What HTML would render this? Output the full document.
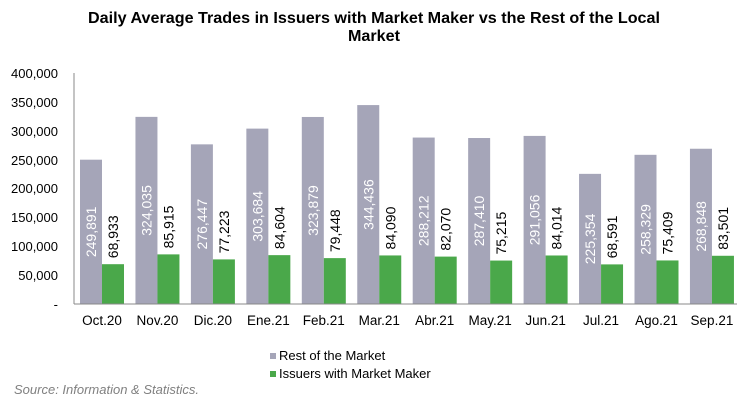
<!DOCTYPE html>
<html><head><meta charset="utf-8"><style>
html,body{margin:0;padding:0;background:#fff;}
svg{display:block;font-family:"Liberation Sans",Arial,sans-serif;}
.g{fill:#a5a5b8}.n{fill:#4aa84a}
.w{fill:#fff;font-size:14px;text-anchor:middle}
.b{fill:#000;font-size:14px;text-anchor:start}
.c{font-size:13.5px;text-anchor:middle}
</style></head><body>
<svg width="749" height="409" viewBox="0 0 749 409" xmlns="http://www.w3.org/2000/svg">
<text x="374" y="23" text-anchor="middle" font-size="16" font-weight="bold" textLength="572" lengthAdjust="spacingAndGlyphs">Daily Average Trades in Issuers with Market Maker vs the Rest of the Local</text>
<text x="374" y="41" text-anchor="middle" font-size="16" font-weight="bold" textLength="52" lengthAdjust="spacingAndGlyphs">Market</text>
<g font-size="13" text-anchor="end" fill="#000">
<text x="58" y="78">400,000</text>
<text x="58" y="107">350,000</text>
<text x="58" y="136">300,000</text>
<text x="58" y="165">250,000</text>
<text x="58" y="193">200,000</text>
<text x="58" y="222">150,000</text>
<text x="58" y="251">100,000</text>
<text x="58" y="280">50,000</text>
<text x="58" y="309">-</text>
</g>

<g transform="translate(80,0)"><rect class="g" x="0" y="159.69" width="22" height="144.31"/><rect class="n" x="22" y="264.19" width="22" height="39.81"/><text class="w" transform="translate(16,231.85) rotate(-90)">249,891</text><text class="b" transform="translate(38,258.19) rotate(-90)">68,933</text><text class="c" x="22" y="325">Oct.20</text></g>
<g transform="translate(135.45,0)"><rect class="g" x="0" y="116.87" width="22" height="187.13"/><rect class="n" x="22" y="254.38" width="22" height="49.62"/><text class="w" transform="translate(16,210.44) rotate(-90)">324,035</text><text class="b" transform="translate(38,248.38) rotate(-90)">85,915</text><text class="c" x="22" y="325">Nov.20</text></g>
<g transform="translate(190.9,0)"><rect class="g" x="0" y="144.35" width="22" height="159.65"/><rect class="n" x="22" y="259.40" width="22" height="44.60"/><text class="w" transform="translate(16,224.18) rotate(-90)">276,447</text><text class="b" transform="translate(38,253.40) rotate(-90)">77,223</text><text class="c" x="22" y="325">Dic.20</text></g>
<g transform="translate(246.35,0)"><rect class="g" x="0" y="128.62" width="22" height="175.38"/><rect class="n" x="22" y="255.14" width="22" height="48.86"/><text class="w" transform="translate(16,216.31) rotate(-90)">303,684</text><text class="b" transform="translate(38,249.14) rotate(-90)">84,604</text><text class="c" x="22" y="325">Ene.21</text></g>
<g transform="translate(301.8,0)"><rect class="g" x="0" y="116.96" width="22" height="187.04"/><rect class="n" x="22" y="258.12" width="22" height="45.88"/><text class="w" transform="translate(16,210.48) rotate(-90)">323,879</text><text class="b" transform="translate(38,252.12) rotate(-90)">79,448</text><text class="c" x="22" y="325">Feb.21</text></g>
<g transform="translate(357.25,0)"><rect class="g" x="0" y="105.09" width="22" height="198.91"/><rect class="n" x="22" y="255.44" width="22" height="48.56"/><text class="w" transform="translate(16,204.55) rotate(-90)">344,436</text><text class="b" transform="translate(38,249.44) rotate(-90)">84,090</text><text class="c" x="22" y="325">Mar.21</text></g>
<g transform="translate(412.7,0)"><rect class="g" x="0" y="137.56" width="22" height="166.44"/><rect class="n" x="22" y="256.60" width="22" height="47.40"/><text class="w" transform="translate(16,220.78) rotate(-90)">288,212</text><text class="b" transform="translate(38,250.60) rotate(-90)">82,070</text><text class="c" x="22" y="325">Abr.21</text></g>
<g transform="translate(468.15,0)"><rect class="g" x="0" y="138.02" width="22" height="165.98"/><rect class="n" x="22" y="260.56" width="22" height="43.44"/><text class="w" transform="translate(16,221.01) rotate(-90)">287,410</text><text class="b" transform="translate(38,254.56) rotate(-90)">75,215</text><text class="c" x="22" y="325">May.21</text></g>
<g transform="translate(523.6,0)"><rect class="g" x="0" y="135.91" width="22" height="168.09"/><rect class="n" x="22" y="255.48" width="22" height="48.52"/><text class="w" transform="translate(16,219.96) rotate(-90)">291,056</text><text class="b" transform="translate(38,249.48) rotate(-90)">84,014</text><text class="c" x="22" y="325">Jun.21</text></g>
<g transform="translate(579.05,0)"><rect class="g" x="0" y="173.86" width="22" height="130.14"/><rect class="n" x="22" y="264.39" width="22" height="39.61"/><text class="w" transform="translate(16,238.93) rotate(-90)">225,354</text><text class="b" transform="translate(38,258.39) rotate(-90)">68,591</text><text class="c" x="22" y="325">Jul.21</text></g>
<g transform="translate(634.5,0)"><rect class="g" x="0" y="154.82" width="22" height="149.18"/><rect class="n" x="22" y="260.45" width="22" height="43.55"/><text class="w" transform="translate(16,229.41) rotate(-90)">258,329</text><text class="b" transform="translate(38,254.45) rotate(-90)">75,409</text><text class="c" x="22" y="325">Ago.21</text></g>
<g transform="translate(689.95,0)"><rect class="g" x="0" y="148.74" width="22" height="155.26"/><rect class="n" x="22" y="255.78" width="22" height="48.22"/><text class="w" transform="translate(16,226.37) rotate(-90)">268,848</text><text class="b" transform="translate(38,249.78) rotate(-90)">83,501</text><text class="c" x="22" y="325">Sep.21</text></g>

<line x1="74" y1="73" x2="74" y2="304" stroke="#888" stroke-width="1"/>
<line x1="74" y1="304" x2="737" y2="304" stroke="#888" stroke-width="1"/>
<rect x="270" y="353" width="6" height="6" fill="#a5a5b8"/>
<text x="279" y="360" font-size="13">Rest of the Market</text>
<rect x="270" y="371" width="6" height="6" fill="#4aa84a"/>
<text x="279" y="378" font-size="13">Issuers with Market Maker</text>
<text x="14" y="394" font-size="13" font-style="italic" fill="#808080">Source: Information &amp; Statistics.</text>
</svg>
</body></html>
